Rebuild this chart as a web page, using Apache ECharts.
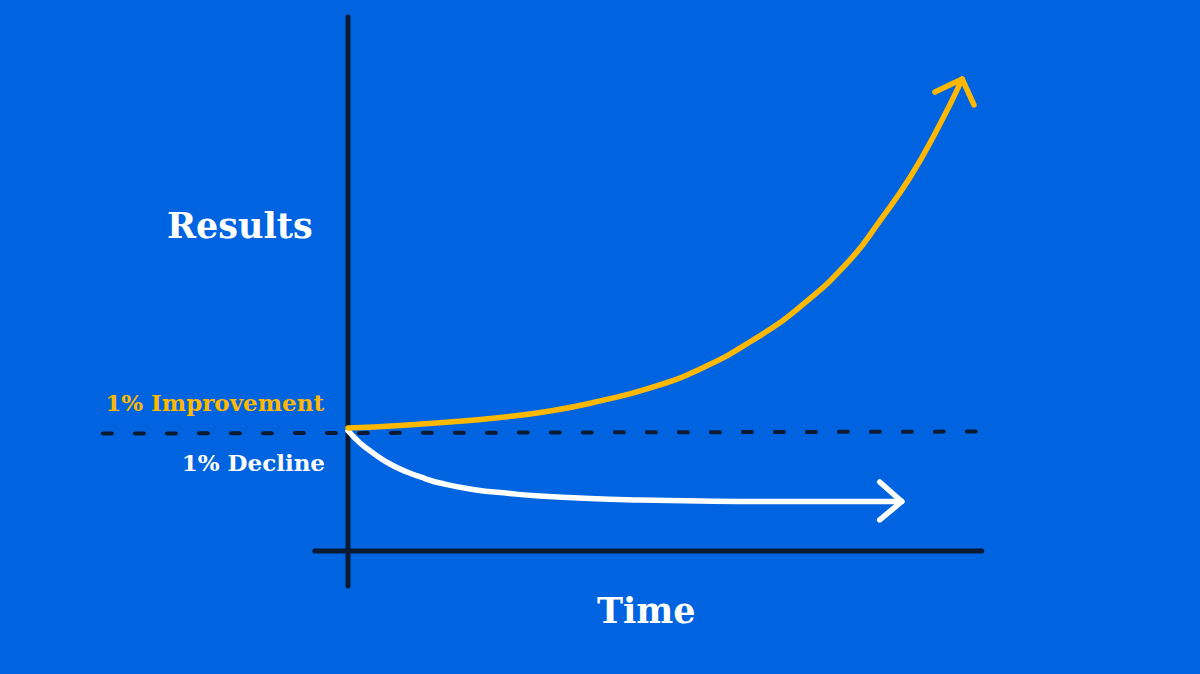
<!DOCTYPE html>
<html>
<head>
<meta charset="utf-8">
<style>
  html, body { margin: 0; padding: 0; background: #0064E1; }
  #chart { width: 1200px; height: 674px; }
</style>
<script src="https://cdn.jsdelivr.net/npm/echarts@6/dist/echarts.min.js"></script>
</head>
<body>
<div id="chart"></div>
<script>
// ---- Data (time units, results units) ----
const improveTime    = [0, 8.0, 15.7, 23.4, 31.1, 38.8, 46.5, 54.2, 61.8, 69.5, 77.2, 81.8, 86.5, 90.6, 94.5];
const improveResults = [103.4, 105.5, 108.4, 112.2, 117.6, 126.1, 137.0, 153.0, 175.6, 205.0, 244.5, 277.3, 314.3, 353.8, 396.6];
const improveArrowTime    = [90.3, 94.5, 96.3];
const improveArrowResults = [385.7, 396.6, 374.8];

const declineTime    = [0, 1.85, 3.85, 6.46, 9.08, 11.85, 14.15, 19.2, 24.9, 29.5, 37.2, 44.9, 54.2, 63.4, 85.2];
const declineResults = [101, 90.8, 82.4, 73.1, 66.4, 60.9, 57.1, 51.7, 48.3, 46.2, 44.1, 42.9, 42.0, 41.6, 41.6];
const declineArrowTime    = [81.8, 85.2, 81.8];
const declineArrowResults = [58.0, 41.6, 26.1];

const baselineTime    = [-37.7, 97.6];
const baselineResults = [98.7, 100.4];

const axisVTime = [0, 0];
const axisVResults = [-29.4, 448.7];
const axisHTime = [-5.1, 97.5];
const axisHResults = [0, 0];

const labels = {
  yName: 'Results',
  xName: 'Time',
  improve: '1% Improvement',
  decline: '1% Decline'
};

const BLUE = '#0064E1';
const YELLOW = '#FFB800';
const NAVY = '#0B1A33';
const WHITE = '#FFFFFF';
const FONT = '"DejaVu Serif", serif';

const zip = (a, b) => a.map((v, i) => [v, b[i]]);

const chart = echarts.init(document.getElementById('chart'), null, { renderer: 'svg' });

function lineSeries(x, y, color, width, extra) {
  return Object.assign({
    type: 'line',
    data: zip(x, y),
    showSymbol: false,
    symbol: 'none',
    silent: true,
    animation: false,
    lineStyle: { color: color, width: width, cap: 'round', join: 'round' }
  }, extra || {});
}

chart.setOption({
  backgroundColor: BLUE,
  animation: false,
  grid: { left: 88, right: 202, top: 15.5, bottom: 87.3 },
  xAxis: { type: 'value', min: -40, max: 100, show: false },
  yAxis: { type: 'value', min: -30, max: 450, show: false },
  series: [
    lineSeries(baselineTime, baselineResults, NAVY, 4, {
      lineStyle: { color: NAVY, width: 4, type: [9, 23], cap: 'round' }
    }),
    lineSeries(axisVTime, axisVResults, NAVY, 5),
    lineSeries(axisHTime, axisHResults, NAVY, 5),
    lineSeries(declineTime, declineResults, WHITE, 5.5, { smooth: true }),
    lineSeries(declineArrowTime, declineArrowResults, WHITE, 5.5),
    lineSeries(improveTime, improveResults, YELLOW, 5.5, { smooth: true }),
    lineSeries(improveArrowTime, improveArrowResults, YELLOW, 5.5)
  ],
  graphic: [
    { type: 'text', left: 167, top: 208, silent: true,
      style: { text: labels.yName, font: 'bold 35px ' + FONT, fill: WHITE } },
    { type: 'text', left: 597, top: 593, silent: true,
      style: { text: labels.xName, font: 'bold 35px ' + FONT, fill: WHITE } },
    { type: 'text', right: 1200 - 324, top: 391, silent: true,
      style: { text: labels.improve, font: 'bold 23px ' + FONT, fill: YELLOW } },
    { type: 'text', right: 1200 - 325, top: 451, silent: true,
      style: { text: labels.decline, font: 'bold 23px ' + FONT, fill: WHITE } }
  ]
});
</script>
</body>
</html>
